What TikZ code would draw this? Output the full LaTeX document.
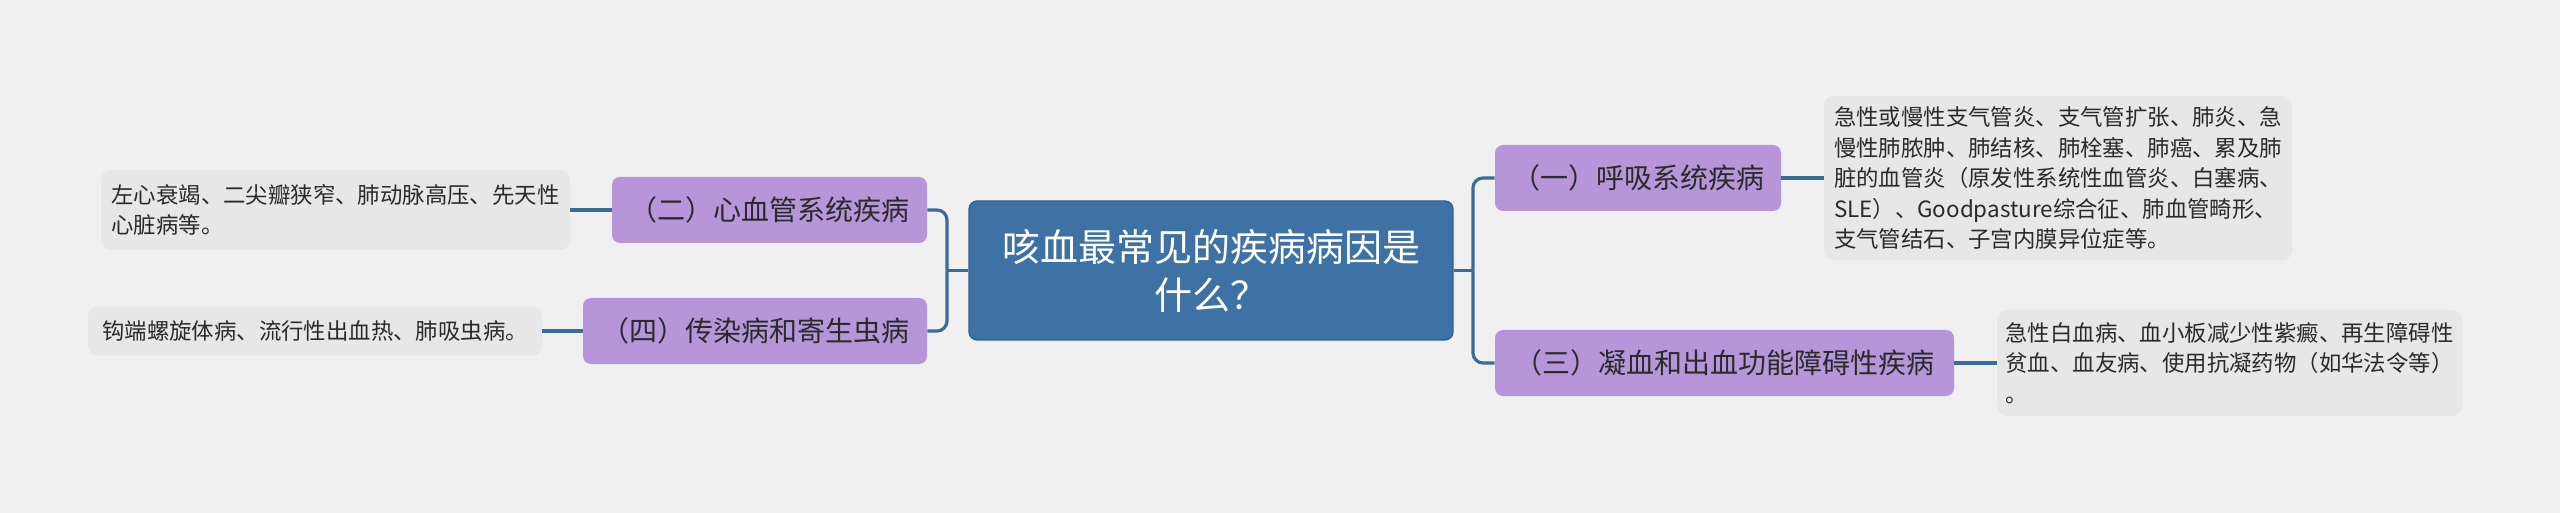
\documentclass[tikz,border=0pt]{standalone}
\usepackage{fontspec}
\setmainfont{Noto Sans CJK SC}
\definecolor{bg}{HTML}{F0F0F0}
\definecolor{mainblue}{HTML}{3E72A5}
\definecolor{mainborder}{HTML}{2F5F8E}
\definecolor{connc}{HTML}{3A6B9A}
\definecolor{branchp}{HTML}{B696D9}
\definecolor{leafg}{HTML}{E7E7E7}
\definecolor{txt}{HTML}{2A2A2A}
\tikzset{
  mainnode/.style={draw=mainborder, line width=0.6pt, fill=mainblue, rounded corners=4pt,
    text=white, align=center, inner sep=0pt,
    font=\fontsize{19pt}{24pt}\selectfont},
  branchnode/.style={fill=branchp, rounded corners=4pt, text=txt, inner sep=0pt,
    minimum height=33pt, font=\fontsize{14pt}{17pt}\selectfont},
  leafnode/.style={fill=leafg, rounded corners=5pt, text=txt, inner sep=0pt, align=left,
    font=\fontsize{11.2pt}{15.25pt}\selectfont},
  conn/.style={draw=connc, line width=1.6pt, rounded corners=5pt},
}
\begin{document}
\begin{tikzpicture}[x=0.5pt, y=-0.5pt]
\fill[bg] (0,0) rectangle (2560,513);
\useasboundingbox (0,0) rectangle (2560,513);

\node[mainnode, minimum width=242pt, minimum height=69.5pt] (c) at (1211,270.5)
  {咳血最常见的疾病病因是\\什么？};

\node[branchnode, minimum width=143pt] (b1) at (1638,178) {（一）呼吸系统疾病};
\node[branchnode, minimum width=229.5pt] (b3) at (1724.5,363) {（三）凝血和出血功能障碍性疾病};
\node[branchnode, minimum width=157.5pt] (b2) at (769.5,210) {（二）心血管系统疾病};
\node[branchnode, minimum width=172pt] (b4) at (755,331) {（四）传染病和寄生虫病};

\node[leafnode, minimum width=234pt, minimum height=82pt] (l1) at (2058,178)
  {急性或慢性支气管炎、支气管扩张、肺炎、急\\慢性肺脓肿、肺结核、肺栓塞、肺癌、累及肺\\脏的血管炎（原发性系统性血管炎、白塞病、\\SLE）、Goodpasture综合征、肺血管畸形、\\支气管结石、子宫内膜异位症等。};
\node[leafnode, minimum width=232.5pt, minimum height=53pt] (l3) at (2229.5,363)
  {急性白血病、血小板减少性紫癜、再生障碍性\\贫血、血友病、使用抗凝药物（如华法令等）\\。};
\node[leafnode, minimum width=234.5pt, minimum height=40pt] (l2) at (335.5,210)
  {左心衰竭、二尖瓣狭窄、肺动脉高压、先天性\\心脏病等。};
\node[leafnode, minimum width=227pt, minimum height=24.5pt] (l4) at (315,331)
  {钩端螺旋体病、流行性出血热、肺吸虫病。};

\coordinate (jR) at (1473,270.5);
\coordinate (jL) at (947,270.5);
\draw[conn] (c.east) -- (jR);
\draw[conn] (jR) |- (b1.west);
\draw[conn] (jR) |- (b3.west);
\draw[conn] (c.west) -- (jL);
\draw[conn] (jL) |- (b2.east);
\draw[conn] (jL) |- (b4.east);

\draw[conn] (b1.east) -- (l1.west);
\draw[conn] (b3.east) -- (l3.west);
\draw[conn] (b2.west) -- (l2.east);
\draw[conn] (b4.west) -- (l4.east);
\end{tikzpicture}
\end{document}
